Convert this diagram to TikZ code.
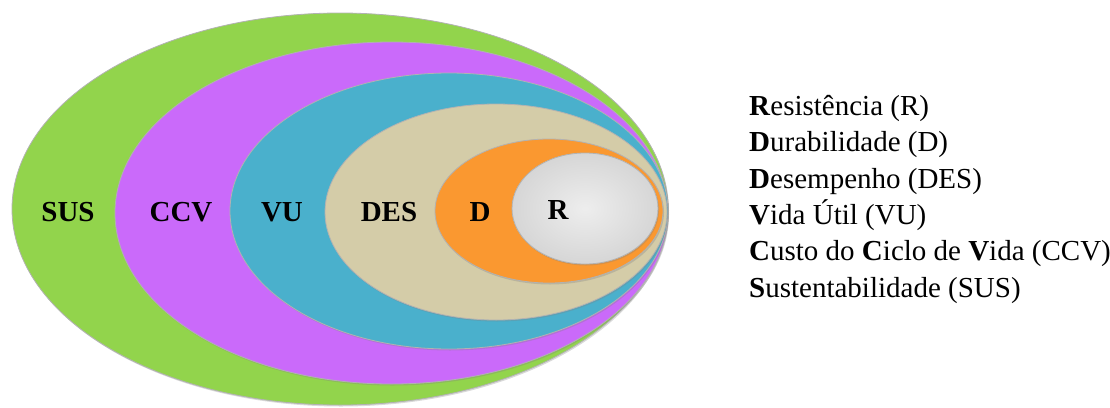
\documentclass[tikz,border=0pt]{standalone}
\usepackage{fontspec}
\setmainfont{Liberation Serif}
\usepackage{tikz}
\usetikzlibrary{shadows}
\definecolor{susgreen}{RGB}{146,212,76}
\definecolor{ccvpurple}{RGB}{202,106,250}
\definecolor{vublue}{RGB}{74,176,204}
\definecolor{destan}{RGB}{212,204,168}
\definecolor{dorange}{RGB}{250,152,48}
\definecolor{rgrey}{RGB}{230,230,230}
\begin{document}
\begin{tikzpicture}[x=1pt,y=-1pt,
	ring/.style={draw=black!30,line width=0.8pt,
		drop shadow={opacity=0.3,shadow xshift=1pt,shadow yshift=-1.5pt}},
	lab/.style={font=\fontsize{29}{34}\selectfont\bfseries},
	leg/.style={anchor=base west,inner sep=0pt,font=\fontsize{29}{34}\selectfont}]
	\useasboundingbox (0,0) rectangle (1110,407);
	%Ellipses
	\path[ring,fill=susgreen] (340,209) ellipse [x radius=328,y radius=196];
	\path[ring,fill=ccvpurple] (391.5,213) ellipse [x radius=276.5,y radius=171];
	\path[ring,fill=vublue] (449,211) ellipse [x radius=219,y radius=138];
	\path[ring,fill=destan] (496,212) ellipse [x radius=171,y radius=108];
	\path[ring,fill=dorange] (549,211) ellipse [x radius=114,y radius=72];
	\path[ring,inner color=rgrey!70!white,outer color=rgrey!93!black,fill=rgrey] (585,208.5) ellipse [x radius=73,y radius=55.5];
	%Labels
	\node[lab] (SUS) at (68,212) {SUS};
	\node[lab] (CCV) at (181,212) {CCV};
	\node[lab] (VU) at (282,212) {VU};
	\node[lab] (DES) at (389,212) {DES};
	\node[lab] (D) at (480,212) {D};
	\node[lab] (R) at (558,210) {R};
	%Legend
	\node[leg] (L0) at (749,115) {\textbf{R}esistência (R)};
	\node[leg] (L1) at (749,151.5) {\textbf{D}urabilidade (D)};
	\node[leg] (L2) at (749,188) {\textbf{D}esempenho (DES)};
	\node[leg] (L3) at (749,224) {\textbf{V}ida Útil (VU)};
	\node[leg] (L4) at (749,260.5) {\textbf{C}usto do \textbf{C}iclo de \textbf{V}ida (CCV)};
	\node[leg] (L5) at (749,297) {\textbf{S}ustentabilidade (SUS)};
\end{tikzpicture}
\end{document}
